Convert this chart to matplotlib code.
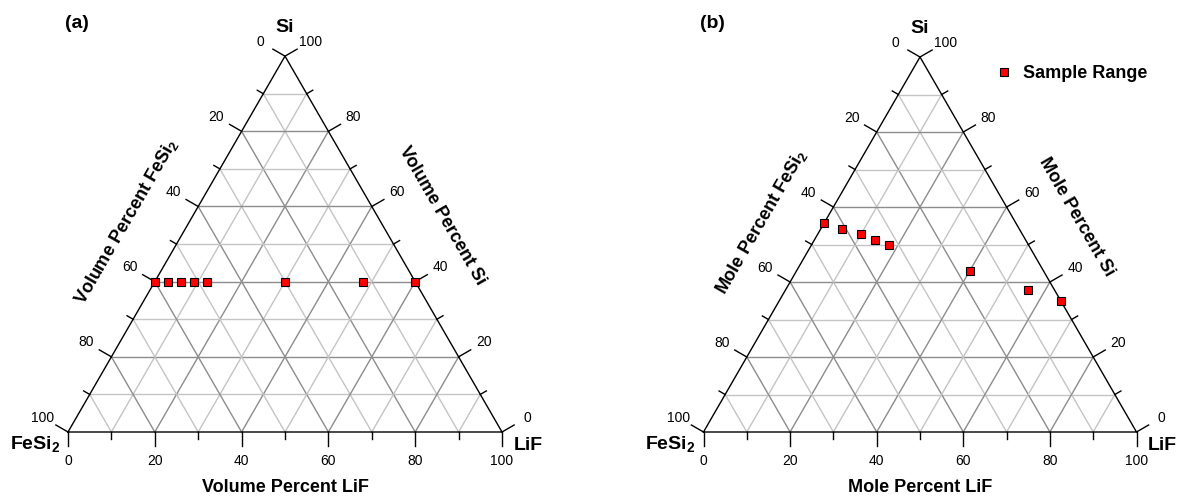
import numpy as np
import matplotlib
matplotlib.use("Agg")
import matplotlib.pyplot as plt
from matplotlib.lines import Line2D

plt.rcParams['font.family'] = ['Liberation Sans', 'DejaVu Sans']
plt.rcParams['mathtext.fontset'] = 'custom'
plt.rcParams['mathtext.rm'] = 'Liberation Sans'
plt.rcParams['mathtext.bf'] = 'Liberation Sans:bold'

# (a) volume percent: LiF and Si of each sample
vol_lif = [0, 3, 6, 9, 12, 30, 48, 60]
vol_si = [40, 40, 40, 40, 40, 40, 40, 40]
# (b) mole percent
mol_lif = [0, 5, 10, 14, 18, 40, 56, 65]
mol_si = [55.8, 54.2, 52.7, 51.2, 49.9, 43.0, 37.9, 35.0]

tick_vals = [0, 20, 40, 60, 80, 100]
grid_vals = [10, 20, 30, 40, 50, 60, 70, 80, 90]

SQ3 = np.sqrt(3) / 2


def tern(b, t, org, S):
    # b = LiF %, t = Si %, screen coords (y down)
    b = np.asarray(b, float)
    t = np.asarray(t, float)
    return org[0] + S * (b + t / 2) / 100, org[1] - S * t * SQ3 / 100


def panel(ax, org, S, word, lif, si, tag, label=None):
    # grid
    for v in grid_vals:
        col = '#8c8c8c' if v % 20 == 0 else '#c4c4c4'
        segs = [((0, v), (100 - v, v)),      # const Si
                ((v, 0), (v, 100 - v)),      # const LiF
                ((100 - v, 0), (0, 100 - v))]  # const FeSi2
        for (b0, t0), (b1, t1) in segs:
            x, y = tern([b0, b1], [t0, t1], org, S)
            ax.plot(x, y, color=col, lw=1, zorder=1)
    # frame
    x, y = tern([0, 100, 0, 0], [0, 0, 100, 0], org, S)
    ax.plot(x, y, color='black', lw=1, zorder=2)

    # ticks and labels
    dirs = {'bot': (0, 1), 'right': (0.866, -0.5), 'left': (-0.866, -0.5)}
    for v in range(0, 101, 10):
        major = v % 20 == 0
        L = 14 if major else 7
        pts = {'bot': tern(v, 0, org, S),
               'right': tern(100 - v, v, org, S),
               'left': tern(0, 100 - v, org, S)}
        for k, (px, py) in pts.items():
            dx, dy = dirs[k]
            ax.plot([px, px + dx * L], [py, py + dy * L], color='black',
                    lw=1, zorder=2)
            if major:
                ax.text(px + dx * 29, py + dy * 29, str(v), fontsize=10,
                        ha='center', va='center')

    # axis titles
    lx, ly = tern(0, 50, org, S)
    ax.text(lx - 0.5 * 6 - 0.866 * 55, ly + 0.866 * 6 - 0.5 * 55,
            word + r' Percent FeSi$_\mathbf{2}$', fontsize=13, weight='bold',
            rotation=60, ha='center', va='center', rotation_mode='anchor')
    rx, ry = tern(50, 50, org, S)
    ax.text(rx + 0.866 * 56, ry - 0.5 * 56, word + ' Percent Si', fontsize=13,
            weight='bold', rotation=-60, ha='center', va='center',
            rotation_mode='anchor')
    bx, by = tern(50, 0, org, S)
    ax.text(bx, by + 55, word + ' Percent LiF', fontsize=13, weight='bold',
            ha='center', va='center')

    # vertex labels
    tx, ty = tern(0, 100, org, S)
    ax.text(tx, ty - 29, 'Si', fontsize=14, weight='bold', ha='center',
            va='center')
    ax.text(org[0] - 33, org[1] + 12, r'$\mathbf{FeSi_2}$', fontsize=14,
            ha='center', va='center')
    ax.text(org[0] + S + 26, org[1] + 13, 'LiF', fontsize=14, weight='bold',
            ha='center', va='center')
    ax.text(org[0] + 9, 23, tag, fontsize=14, weight='bold', ha='center',
            va='center')

    # samples
    x, y = tern(lif, si, org, S)
    ax.plot(x, y, ls='none', marker='s', ms=6.2, mfc='#ff0000', mec='black',
            mew=0.8, zorder=5, label=label)


fig = plt.figure(figsize=(11.77, 4.96), dpi=100)
ax = fig.add_axes([0, 0, 1, 1])
ax.set_xlim(0, 1177)
ax.set_ylim(496, 0)
ax.axis('off')

panel(ax, (68, 432), 434, 'Volume', vol_lif, vol_si, '(a)')
panel(ax, (703.5, 432), 433, 'Mole', mol_lif, mol_si, '(b)',
      label='Sample Range')

ax.legend(loc='center left', bbox_to_anchor=(995 / 1177, 1 - 74 / 496),
          bbox_transform=fig.transFigure, frameon=False, borderpad=0,
          borderaxespad=0, handlelength=1.0, handletextpad=0.55,
          prop={'weight': 'bold', 'size': 13})

fig.savefig('out.png', dpi=100)
